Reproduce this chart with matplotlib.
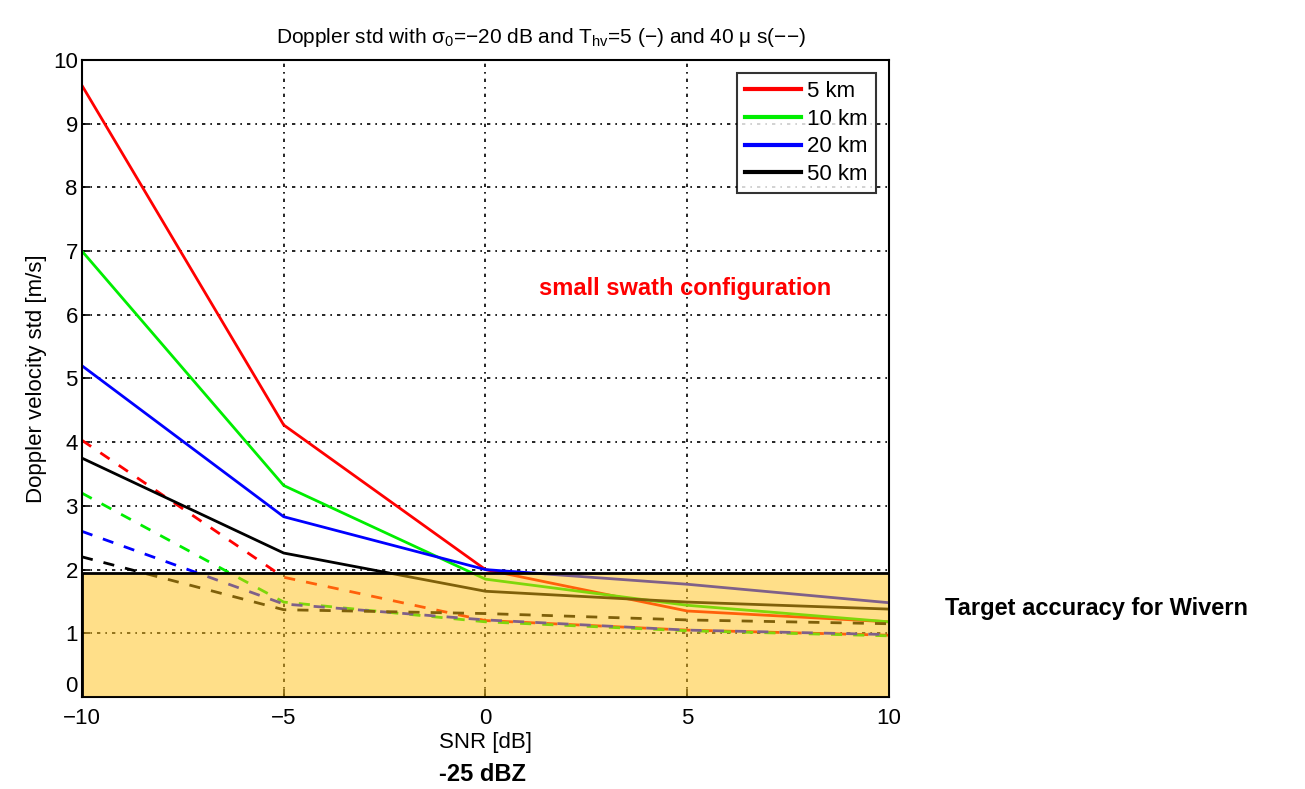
import numpy as np
import matplotlib.pyplot as plt
from matplotlib.patches import Rectangle

plt.rcParams['font.family'] = ['Liberation Sans', 'DejaVu Sans']
plt.rcParams['mathtext.default'] = 'regular'

# SNR values [dB]
snr = [-10, -5, 0, 5, 10]
labels = ['5 km', '10 km', '20 km', '50 km']
colors = ['#ff0000', '#00ee00', '#0000ff', '#000000']

# Doppler velocity std [m/s], T_hv = 5 us (solid)
std_5us = [
    [9.6, 4.27, 2.0, 1.35, 1.18],
    [7.0, 3.32, 1.85, 1.44, 1.18],
    [5.2, 2.83, 2.0, 1.77, 1.48],
    [3.75, 2.26, 1.66, 1.49, 1.38],
]
# T_hv = 40 us (dashed)
std_40us = [
    [4.03, 1.88, 1.2, 1.05, 0.97],
    [3.2, 1.49, 1.18, 1.04, 0.96],
    [2.6, 1.46, 1.21, 1.05, 0.98],
    [2.2, 1.37, 1.31, 1.21, 1.15],
]
target = 1.95

fig = plt.figure(figsize=(13.05, 7.89), dpi=100)
ax = fig.add_axes([0.0628, 0.1166, 0.6184, 0.8074])

for i in range(len(labels)):
    ax.plot(snr, std_5us[i], '-', color=colors[i], lw=2, label=labels[i])
    ax.plot(snr, std_40us[i], '--', color=colors[i], lw=2, dashes=(4, 4))

# target accuracy box (semi-transparent, over the lines)
ax.add_patch(Rectangle((-10, 0), 20, target, facecolor='#ffc115', alpha=0.5,
                       edgecolor='none', zorder=3))
ax.add_patch(Rectangle((-10, 0), 20, target, facecolor='none',
                       edgecolor='black', lw=2, zorder=4))

ax.set_xlim(-10, 10)
ax.set_ylim(0, 10)
ax.set_xticks([-10, -5, 0, 5, 10])
ax.set_xticklabels(['\u221210', '\u22125', '0', '5', '10'])
ax.set_yticks(range(0, 11))
ax.tick_params(labelsize=16, direction='in', length=6, width=1.2)
ax.tick_params(axis='x', pad=8)
ax.tick_params(axis='y', pad=3)
# lift the y "0" label a little so it does not run into "-10"
ax.get_yticklabels()[0].set_va('bottom')
ax.grid(True, color='black', linestyle=(0, (2, 3, 1, 3)), lw=1.2)
for s in ax.spines.values():
    s.set_linewidth(1.5)

ax.set_title('Doppler std with \u03c3$_0$=\u221220 dB and T$_{hv}$=5 (\u2212) and 40 \u03bc s(\u2212\u2212)',
             fontsize=15, pad=12, x=0.569)
ax.set_xlabel('SNR [dB]', fontsize=16, labelpad=2)
ax.set_ylabel('Doppler velocity std [m/s]', fontsize=16, labelpad=4)

leg = ax.legend(loc='upper right', fontsize=16, frameon=True, fancybox=False,
                edgecolor='black', handlelength=2.5, handletextpad=0.3,
                borderpad=0.35, labelspacing=0.3, borderaxespad=0.6)
leg.get_frame().set_linewidth(1.5)
for h in leg.get_lines():
    h.set_linewidth(3)

ax.text(0.566, 0.641, 'small swath configuration', transform=ax.transAxes,
        color='red', fontsize=17, fontweight='bold', ha='left', va='center')
fig.text(0.7245, 0.229, 'Target accuracy for Wivern', fontsize=17,
         fontweight='bold', ha='left', va='center')
fig.text(0.370, 0.018, '-25 dBZ', fontsize=17, fontweight='bold',
         ha='center', va='center')

fig.savefig('out.png', dpi=100)
